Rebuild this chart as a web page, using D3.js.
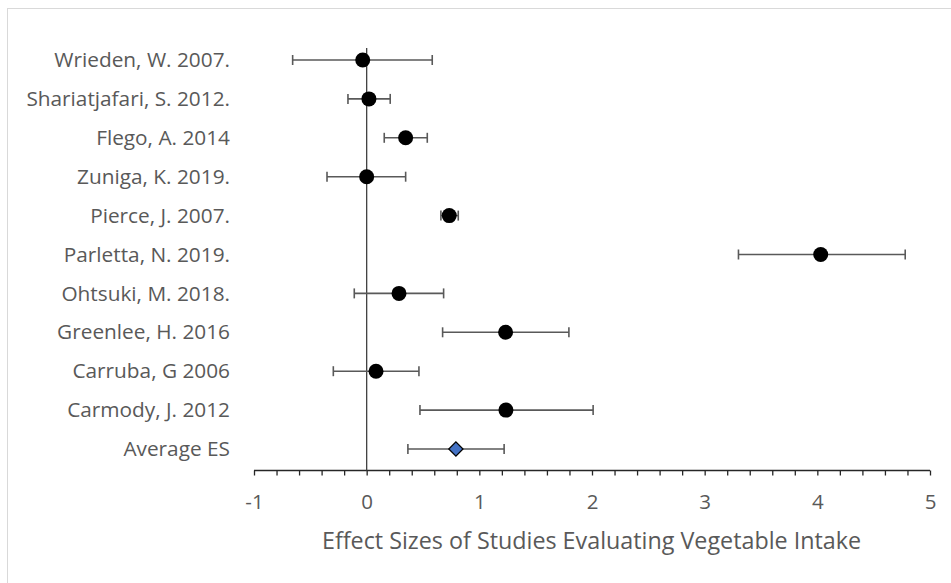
<!DOCTYPE html>
<html>
<head>
<meta charset="utf-8">
<script src="https://cdn.jsdelivr.net/npm/d3@7"></script>
<style>
  html, body { margin: 0; padding: 0; background: #fff; }
  svg { display: block; }
  text { font-family: "Open Sans", Lato, sans-serif; fill: #595959; }
</style>
</head>
<body>
<svg id="chart" width="951" height="583"></svg>
<script>
// ---- data ----
const categories = [
  "Wrieden, W. 2007.",
  "Shariatjafari, S. 2012.",
  "Flego, A. 2014",
  "Zuniga, K. 2019.",
  "Pierce, J. 2007.",
  "Parletta, N. 2019.",
  "Ohtsuki, M. 2018.",
  "Greenlee, H. 2016",
  "Carruba, G 2006",
  "Carmody, J. 2012",
  "Average ES"
];
const effectSizes = [-0.035, 0.02, 0.346, 0.0, 0.733, 4.03, 0.287, 1.233, 0.083, 1.236, 0.792];
const lowerCI     = [-0.657, -0.166, 0.156, -0.352, 0.659, 3.30, -0.11, 0.674, -0.296, 0.473, 0.366];
const upperCI     = [0.582, 0.209, 0.538, 0.346, 0.813, 4.78, 0.683, 1.795, 0.464, 2.01, 1.22];
const xTickLabels = [-1, 0, 1, 2, 3, 4, 5];
const xTitle = "Effect Sizes of Studies Evaluating Vegetable Intake";

const rows = categories.map((c, i) => ({
  name: c, es: effectSizes[i], lo: lowerCI[i], hi: upperCI[i],
  avg: c === "Average ES"
}));

const svg = d3.select("#chart");

// chart border (extends past the right/bottom edge like the reference)
svg.append("rect")
  .attr("x", 7.5).attr("y", 8.5)
  .attr("width", 1000).attr("height", 1000)
  .attr("fill", "none").attr("stroke", "#d9d9d9").attr("stroke-width", 1);

const x = d3.scaleLinear().domain([-1, 5]).range([254, 930]);
const y = d3.scalePoint().domain(categories).range([60, 449]);
const axisY = 470.5;

// x axis: minor/major ticks
const ticksAll = d3.range(-1, 5.0001, 0.2).map(v => Math.round(v * 10) / 10);
const gx = svg.append("g").attr("transform", `translate(0,${axisY})`)
  .call(d3.axisBottom(x).tickValues(ticksAll).tickSize(5).tickFormat(""));
gx.select(".domain").attr("stroke", "#262626").attr("stroke-width", 1.3)
  .attr("d", `M${x(-1)},0H${x(5)}`);
gx.selectAll(".tick line").attr("stroke", "#262626").attr("stroke-width", 1.3);

// x tick labels
const gxl = svg.append("g").attr("transform", `translate(0,${axisY})`)
  .call(d3.axisBottom(x).tickValues(xTickLabels).tickSize(0).tickPadding(24).tickFormat(d3.format("d")));
gxl.select(".domain").remove();
gxl.selectAll("text").style("font-size", "20.5px").attr("fill", "#595959")
  .text(d => d < 0 ? "-" + Math.abs(d) : d);

// x axis title
svg.append("text")
  .attr("x", 591.5).attr("y", 549)
  .attr("text-anchor", "middle")
  .style("font-size", "23.3px")
  .text(xTitle);

// y category labels
const gy = svg.append("g").attr("transform", "translate(230,0)")
  .call(d3.axisLeft(y).tickSize(0).tickPadding(0));
gy.select(".domain").remove();
gy.selectAll("text").style("font-size", "20.8px").attr("fill", "#595959");

// zero reference line
svg.append("line")
  .attr("x1", x(0)).attr("x2", x(0))
  .attr("y1", 48).attr("y2", axisY)
  .attr("stroke", "#404040").attr("stroke-width", 1.3);

// error bars
const eb = svg.append("g").selectAll("g").data(rows).join("g")
  .attr("stroke", "#595959").attr("stroke-width", 1.6);
eb.append("line")
  .attr("x1", d => x(d.lo)).attr("x2", d => x(d.hi))
  .attr("y1", d => y(d.name)).attr("y2", d => y(d.name));
eb.append("line")
  .attr("x1", d => x(d.lo)).attr("x2", d => x(d.lo))
  .attr("y1", d => y(d.name) - 5).attr("y2", d => y(d.name) + 5);
eb.append("line")
  .attr("x1", d => x(d.hi)).attr("x2", d => x(d.hi))
  .attr("y1", d => y(d.name) - 5).attr("y2", d => y(d.name) + 5);

// study markers
svg.append("g").selectAll("circle").data(rows.filter(d => !d.avg)).join("circle")
  .attr("cx", d => x(d.es)).attr("cy", d => y(d.name))
  .attr("r", 7.5).attr("fill", "#000");

// average marker (diamond)
svg.append("g").selectAll("path").data(rows.filter(d => d.avg)).join("path")
  .attr("transform", d => `translate(${x(d.es)},${y(d.name)}) rotate(45)`)
  .attr("d", d3.symbol().type(d3.symbolSquare).size(100))
  .attr("fill", "#4472C4").attr("stroke", "#000").attr("stroke-width", 1.3);
</script>
</body>
</html>
